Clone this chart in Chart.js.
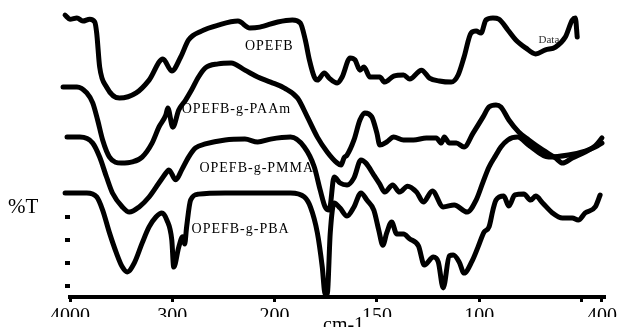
<!DOCTYPE html>
<html>
<head>
<meta charset="utf-8">
<script src="https://cdn.jsdelivr.net/npm/chart.js@4.4.0/dist/chart.umd.min.js"></script>
<style>
  html, body { margin: 0; padding: 0; background: #fff; }
  #wrap { width: 620px; height: 327px; }
</style>
</head>
<body>
<div id="wrap"><canvas id="ftirChart"></canvas></div>
<script>
// wavenumbers (cm-1) and %T (offset traces)
const wnOPEFB = [4048, 4000, 3932, 3874, 3807, 3758, 3739, 3710, 3643, 3517, 3353, 3227, 3092, 3005, 2918, 2841, 2715, 2551, 2358, 2242, 2145, 1985, 1913, 1874, 1850, 1830, 1806, 1791, 1757, 1733, 1694, 1670, 1631, 1607, 1583, 1563, 1534, 1486, 1462, 1418, 1370, 1340, 1282, 1243, 1195, 1137, 1103, 1074, 1040, 1015, 991, 967, 933, 904, 860, 821, 773, 724, 676, 627, 579, 545, 530, 521];
const tOPEFB = [98.9, 97.5, 97.9, 96.8, 97.5, 96.5, 92.6, 80.7, 73.7, 69.8, 71.6, 76.1, 83.5, 79.3, 84.2, 90.2, 93.3, 95.4, 96.8, 94.4, 94.7, 96.5, 97.2, 96.1, 90.2, 83.2, 77.2, 76.1, 78.6, 76.8, 75.1, 77.2, 83.9, 83.2, 79.6, 80.7, 77.2, 77.2, 75.4, 77.5, 77.9, 76.5, 79.6, 76.8, 75.8, 75.4, 77.9, 84.2, 92.6, 93.3, 92.6, 97.2, 97.9, 97.5, 93.7, 90.2, 87.4, 85.3, 86.7, 87.7, 91.2, 97.2, 97.9, 91.2];

const wnPAAm = [4068, 3932, 3836, 3778, 3730, 3681, 3614, 3498, 3391, 3295, 3198, 3131, 3063, 3044, 2995, 2937, 2870, 2812, 2744, 2677, 2551, 2425, 2290, 2165, 2039, 1952, 1888, 1840, 1791, 1743, 1694, 1675, 1661, 1646, 1612, 1583, 1559, 1525, 1500, 1486, 1452, 1418, 1370, 1321, 1258, 1210, 1185, 1171, 1146, 1112, 1074, 1030, 981, 952, 918, 894, 855, 807, 758, 690, 627, 593, 545, 482, 433, 400];
const tPAAm = [73.7, 73.7, 71.6, 68.1, 62.1, 55.1, 49.1, 47.0, 47.4, 49.1, 54.0, 59.6, 63.9, 66.3, 59.6, 65.6, 69.1, 72.6, 77.2, 80.4, 81.8, 82.1, 79.6, 77.2, 75.4, 73.3, 69.8, 63.2, 56.1, 50.9, 47.0, 46.3, 48.8, 49.8, 55.1, 62.1, 64.6, 63.2, 57.5, 53.3, 54.4, 56.1, 55.1, 55.1, 55.8, 55.8, 54.0, 56.1, 54.0, 54.0, 52.6, 57.5, 63.2, 66.7, 67.4, 66.7, 62.1, 57.9, 55.1, 51.6, 48.8, 47.0, 48.8, 50.9, 53.0, 55.8];

const wnPMMA = [4029, 3903, 3778, 3710, 3643, 3585, 3488, 3420, 3324, 3227, 3131, 3053, 3034, 2966, 2908, 2841, 2773, 2677, 2483, 2290, 2165, 2039, 1922, 1855, 1806, 1777, 1753, 1733, 1709, 1680, 1646, 1612, 1578, 1554, 1515, 1486, 1462, 1423, 1389, 1350, 1306, 1273, 1229, 1176, 1122, 1059, 1015, 981, 952, 918, 894, 860, 812, 758, 661, 564, 482, 433, 400];
const tPMMA = [56.1, 56.1, 54.0, 49.1, 42.1, 36.5, 31.6, 29.8, 31.6, 35.1, 40.0, 43.9, 44.6, 41.1, 44.6, 49.1, 52.3, 53.7, 55.1, 55.4, 54.4, 55.4, 56.1, 52.6, 45.6, 37.5, 31.6, 30.5, 42.1, 40.0, 39.3, 41.8, 48.1, 47.0, 42.8, 39.6, 36.8, 39.3, 36.8, 38.9, 36.8, 33.3, 37.2, 31.6, 32.3, 29.8, 34.0, 40.4, 45.6, 49.8, 52.6, 55.1, 56.1, 53.3, 49.1, 49.8, 51.2, 52.6, 54.0];

const wnPBA = [4048, 3836, 3739, 3681, 3614, 3546, 3488, 3440, 3372, 3295, 3227, 3160, 3102, 3053, 3005, 2986, 2937, 2899, 2879, 2860, 2821, 2744, 2483, 2165, 1922, 1855, 1825, 1791, 1767, 1753, 1743, 1728, 1709, 1680, 1646, 1612, 1578, 1549, 1515, 1491, 1471, 1452, 1428, 1403, 1370, 1340, 1297, 1268, 1224, 1200, 1176, 1146, 1127, 1098, 1074, 1035, 1006, 976, 952, 933, 918, 880, 855, 826, 782, 748, 724, 690, 642, 593, 545, 516, 482, 433, 409];
const tPBA = [36.5, 36.5, 35.1, 30.5, 22.5, 15.4, 10.5, 8.8, 11.9, 18.9, 24.6, 28.1, 29.5, 27.0, 20.0, 10.5, 17.5, 21.1, 18.6, 24.6, 34.0, 36.1, 36.5, 36.5, 36.5, 35.1, 31.6, 22.5, 10.5, 1.0, 1.0, 22.5, 33.0, 31.2, 28.4, 31.6, 36.5, 34.0, 30.5, 23.5, 18.2, 22.5, 26.3, 22.1, 22.1, 20.4, 17.9, 11.2, 14.0, 12.3, 3.2, 14.4, 14.7, 12.3, 8.4, 12.6, 17.5, 22.8, 24.6, 30.5, 34.0, 35.4, 31.9, 35.8, 36.1, 34.0, 35.4, 33.0, 29.5, 27.7, 27.7, 27.0, 29.5, 31.6, 35.8];

// axis: tick wavenumbers and the (cut-off) labels as printed
const tickWavenumbers = [4000, 3000, 2000, 1500, 1000, 500, 400];
const tickLabels = ['4000', '300', '200', '150', '100', '', '400'];
const yTickValues = [4, 12, 20, 28];

const curveLabels = [
  { text: 'OPEFB', wn: 2290, t: 87.9 },
  { text: 'OPEFB-g-PAAm', wn: 2908, t: 65.8 },
  { text: 'OPEFB-g-PMMA', wn: 2735, t: 45.3 },
  { text: 'OPEFB-g-PBA', wn: 2812, t: 23.9 }
];

// half scale above 2000 cm-1, full scale below (usual FTIR split axis)
function toAxis(w) {
  return w >= 2000 ? (4000 - w) / 2 : 1000 + (2000 - w);
}

function series(wn, t) {
  return wn.map((w, i) => ({ x: toAxis(w), y: t[i] }));
}

const lineStyle = {
  borderColor: '#000',
  borderWidth: 5,
  pointRadius: 0,
  fill: false,
  cubicInterpolationMode: 'monotone',
  borderJoinStyle: 'round',
  borderCapStyle: 'round',
  clip: false
};

const decor = {
  id: 'decor',
  beforeDatasetsDraw(chart) {
    const { ctx, scales: { x, y } } = chart;
    ctx.save();
    ctx.fillStyle = '#000';
    ctx.font = '14px "Liberation Serif"';
    ctx.letterSpacing = '1px';
    ctx.textBaseline = 'middle';
    ctx.textAlign = 'left';
    curveLabels.forEach(l => {
      ctx.fillText(l.text, x.getPixelForValue(toAxis(l.wn)), y.getPixelForValue(l.t));
    });
    ctx.letterSpacing = '0px';
    ctx.font = '11px "Liberation Serif"';
    ctx.fillStyle = '#333';
    ctx.fillText('Data', x.getPixelForValue(toAxis(710)), y.getPixelForValue(90.2));
    ctx.restore();
  },
  afterDraw(chart) {
    const { ctx } = chart;
    ctx.save();
    // the labels of the original are cut at the bottom
    ctx.fillStyle = '#fff';
    ctx.fillRect(0, 317, chart.width, chart.height - 317);
    ctx.fillStyle = '#000';
    ctx.font = '20px "Liberation Serif"';
    ctx.textAlign = 'left';
    ctx.textBaseline = 'alphabetic';
    ctx.fillText('cm-1', 323, 331);
    ctx.font = '21px "Liberation Serif"';
    ctx.fillText('%T', 8, 213);
    ctx.restore();
  }
};

new Chart(document.getElementById('ftirChart'), {
  type: 'line',
  data: {
    datasets: [
      { label: 'OPEFB', data: series(wnOPEFB, tOPEFB), ...lineStyle },
      { label: 'OPEFB-g-PAAm', data: series(wnPAAm, tPAAm), ...lineStyle },
      { label: 'OPEFB-g-PMMA', data: series(wnPMMA, tPMMA), ...lineStyle },
      { label: 'OPEFB-g-PBA', data: series(wnPBA, tPBA), ...lineStyle }
    ]
  },
  options: {
    responsive: true,
    maintainAspectRatio: false,
    animation: false,
    layout: { padding: { top: 12, right: 10, left: 0, bottom: 0 } },
    plugins: { legend: { display: false }, tooltip: { enabled: false } },
    scales: {
      x: {
        type: 'linear',
        min: 0,
        max: 2610,
        afterBuildTicks: scale => {
          scale.ticks = tickWavenumbers.map(w => ({ value: toAxis(w) }));
        },
        afterFit: scale => { scale.height = 30; },
        ticks: {
          autoSkip: false,
          maxRotation: 0,
          padding: 3,
          color: '#000',
          font: { family: 'Liberation Serif', size: 20 },
          callback: (value, index) => tickLabels[index]
        },
        grid: { drawOnChartArea: false, drawTicks: true, tickLength: 5, lineWidth: 3, color: '#000' },
        border: { display: true, width: 4, color: '#000' }
      },
      y: {
        type: 'linear',
        min: 0,
        max: 100,
        afterBuildTicks: scale => {
          scale.ticks = yTickValues.map(v => ({ value: v }));
        },
        afterFit: scale => { scale.width = 70; },
        ticks: { display: false },
        grid: { drawOnChartArea: false, drawTicks: true, tickLength: 5, lineWidth: 4, color: '#000' },
        border: { display: false }
      }
    }
  },
  plugins: [decor]
});
</script>
</body>
</html>
